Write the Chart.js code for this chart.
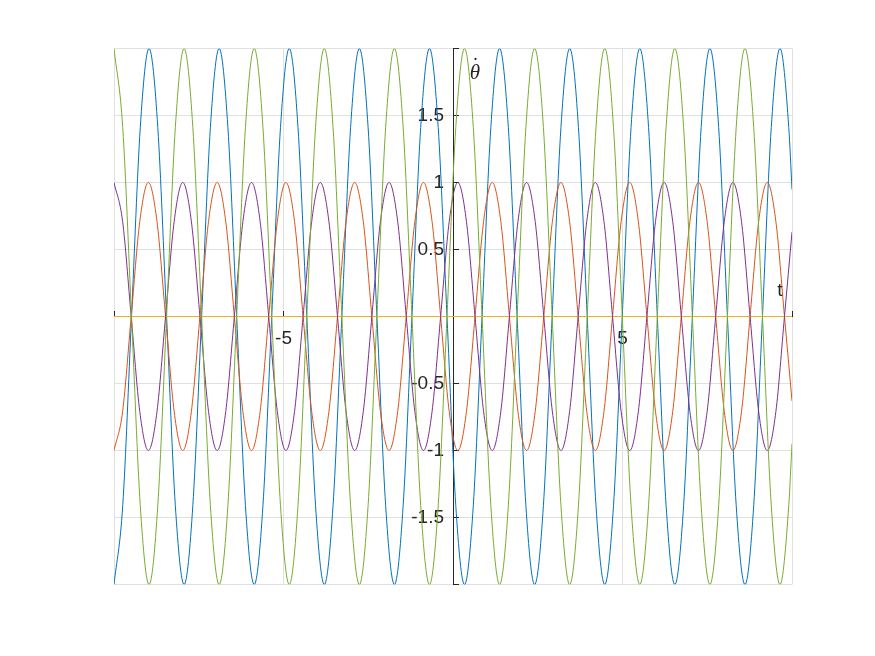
<!DOCTYPE html>
<html><head><meta charset="utf-8">
<script src="https://cdn.jsdelivr.net/npm/chart.js@4"></script>
<style>html,body{margin:0;padding:0;background:#fff}</style>
</head><body>
<canvas id="c" width="875" height="656"></canvas>
<script>
// time samples for the two amplitude-2 curves (period ~2.068)
const tA = [
-10, -9.742, -9.483, -9.225, -8.966, -8.708, -8.449, -8.191,
-7.932, -7.674, -7.415, -7.157, -6.898, -6.640, -6.381, -6.123,
-5.864, -5.606, -5.347, -5.089, -4.830, -4.572, -4.313, -4.055,
-3.796, -3.538, -3.279, -3.021, -2.762, -2.504, -2.245, -1.987,
-1.728, -1.470, -1.211, -0.953, -0.694, -0.436, -0.177, 0.082,
0.340, 0.599, 0.857, 1.116, 1.374, 1.633, 1.891, 2.150,
2.408, 2.667, 2.925, 3.184, 3.442, 3.701, 3.959, 4.218,
4.476, 4.735, 4.993, 5.252, 5.510, 5.769, 6.027, 6.286,
6.544, 6.803, 7.061, 7.320, 7.578, 7.837, 8.095, 8.354,
8.612, 8.871, 9.129, 9.388, 9.646, 9.905, 10];
const green = [
2, 1.41, 0, -1.41, -2, -1.41, 0, 1.41,
2, 1.41, 0, -1.41, -2, -1.41, 0, 1.41,
2, 1.41, 0, -1.41, -2, -1.41, 0, 1.41,
2, 1.41, 0, -1.41, -2, -1.41, 0, 1.41,
2, 1.41, 0, -1.41, -2, -1.41, 0, 1.41,
2, 1.41, 0, -1.41, -2, -1.41, 0, 1.41,
2, 1.41, 0, -1.41, -2, -1.41, 0, 1.41,
2, 1.41, 0, -1.41, -2, -1.41, 0, 1.41,
2, 1.41, 0, -1.41, -2, -1.41, 0, 1.41,
2, 1.41, 0, -1.41, -2, -1.41, -0.95];
const blue = [
-2, -1.41, 0, 1.41, 2, 1.41, 0, -1.41,
-2, -1.41, 0, 1.41, 2, 1.41, 0, -1.41,
-2, -1.41, 0, 1.41, 2, 1.41, 0, -1.41,
-2, -1.41, 0, 1.41, 2, 1.41, 0, -1.41,
-2, -1.41, 0, 1.41, 2, 1.41, 0, -1.41,
-2, -1.41, 0, 1.41, 2, 1.41, 0, -1.41,
-2, -1.41, 0, 1.41, 2, 1.41, 0, -1.41,
-2, -1.41, 0, 1.41, 2, 1.41, 0, -1.41,
-2, -1.41, 0, 1.41, 2, 1.41, 0, -1.41,
-2, -1.41, 0, 1.41, 2, 1.41, 0.95];
// time samples for the two amplitude-1 curves (period ~2.029)
const tB = [
-10, -9.746, -9.493, -9.239, -8.986, -8.732, -8.479, -8.225,
-7.972, -7.718, -7.464, -7.211, -6.957, -6.704, -6.450, -6.197,
-5.943, -5.690, -5.436, -5.182, -4.929, -4.675, -4.422, -4.168,
-3.915, -3.661, -3.407, -3.154, -2.900, -2.647, -2.393, -2.140,
-1.886, -1.632, -1.379, -1.125, -0.872, -0.618, -0.365, -0.111,
0.142, 0.396, 0.650, 0.903, 1.157, 1.410, 1.664, 1.917,
2.171, 2.424, 2.678, 2.932, 3.185, 3.439, 3.692, 3.946,
4.199, 4.453, 4.706, 4.960, 5.214, 5.467, 5.721, 5.974,
6.228, 6.481, 6.735, 6.989, 7.242, 7.496, 7.749, 8.003,
8.256, 8.510, 8.763, 9.017, 9.271, 9.524, 9.778, 10];
const purple = [
1, 0.71, 0, -0.71, -1, -0.71, 0, 0.71,
1, 0.71, 0, -0.71, -1, -0.71, 0, 0.71,
1, 0.71, 0, -0.71, -1, -0.71, 0, 0.71,
1, 0.71, 0, -0.71, -1, -0.71, 0, 0.71,
1, 0.71, 0, -0.71, -1, -0.71, 0, 0.71,
1, 0.71, 0, -0.71, -1, -0.71, 0, 0.71,
1, 0.71, 0, -0.71, -1, -0.71, 0, 0.71,
1, 0.71, 0, -0.71, -1, -0.71, 0, 0.71,
1, 0.71, 0, -0.71, -1, -0.71, 0, 0.71,
1, 0.71, 0, -0.71, -1, -0.71, 0, 0.63];
const orange = [
-1, -0.71, 0, 0.71, 1, 0.71, 0, -0.71,
-1, -0.71, 0, 0.71, 1, 0.71, 0, -0.71,
-1, -0.71, 0, 0.71, 1, 0.71, 0, -0.71,
-1, -0.71, 0, 0.71, 1, 0.71, 0, -0.71,
-1, -0.71, 0, 0.71, 1, 0.71, 0, -0.71,
-1, -0.71, 0, 0.71, 1, 0.71, 0, -0.71,
-1, -0.71, 0, 0.71, 1, 0.71, 0, -0.71,
-1, -0.71, 0, 0.71, 1, 0.71, 0, -0.71,
-1, -0.71, 0, 0.71, 1, 0.71, 0, -0.71,
-1, -0.71, 0, 0.71, 1, 0.71, 0, -0.63];
const tZero = [-10, -5, 0, 5, 10];
const yellow = [0, 0, 0, 0, 0];
const xTickLabels = ['-5', '5'];
const yTickLabels = ['-1.5', '-1', '-0.5', '0.5', '1', '1.5'];
const xAxisLabel = 't';
const yAxisLabel = '\u03B8';
const yAxisLabelDot = '.';

function pts(t, y) { return t.map((v, i) => ({x: v, y: y[i]})); }

const TXT = '#262626';
const FONT = '"Liberation Sans", Arial, sans-serif';

const labelPlugin = {
  id: 'axisLabels',
  afterDraw(chart) {
    const ctx = chart.ctx, xs = chart.scales.x, ys = chart.scales.y;
    ctx.save();
    ctx.fillStyle = TXT;
    ctx.font = '19px ' + FONT;
    ctx.textAlign = 'center';
    ctx.textBaseline = 'alphabetic';
    ctx.fillText(xAxisLabel, xs.getPixelForValue(10) - 12, ys.getPixelForValue(0) - 21);
    const cx = xs.getPixelForValue(0) + 22, by = ys.getPixelForValue(2) + 30;
    ctx.font = 'italic 21px "Liberation Serif", "DejaVu Serif", serif';
    ctx.fillText(yAxisLabel, cx, by);
    ctx.font = '18px "Liberation Serif", serif';
    ctx.fillText(yAxisLabelDot, cx + 0.5, by - 19);
    ctx.restore();
  }
};

const ds = (label, t, y, color) => ({
  label, data: pts(t, y), borderColor: color, backgroundColor: color,
  borderWidth: 1, pointRadius: 0, fill: false, cubicInterpolationMode: 'monotone'
});

const yel = ds('yellow', tZero, yellow, '#EDB120');
yel.cubicInterpolationMode = 'default';
yel.tension = 0;

new Chart(document.getElementById('c'), {
  type: 'line',
  data: {
    datasets: [
      ds('green', tA, green, '#77AC30'),
      ds('purple', tB, purple, '#7E2F8E'),
      yel,
      ds('orange', tB, orange, '#D95319'),
      ds('blue', tA, blue, '#0072BD')
    ]
  },
  options: {
    responsive: false, animation: false, devicePixelRatio: 1,
    layout: {padding: {left: 114, top: 48.5, right: 83, bottom: 71.5}},
    plugins: {legend: {display: false}, tooltip: {enabled: false}},
    scales: {
      x: {
        type: 'linear', min: -10, max: 10, position: 'center',
        ticks: {
          stepSize: 5, autoSkip: false, maxRotation: 0, padding: 17, color: TXT,
          font: {family: FONT, size: 19},
          callback: v => xTickLabels.includes(String(v)) ? String(v) : ''
        },
        grid: {color: '#e0e0e0', lineWidth: 1, tickLength: -6, tickColor: TXT, tickWidth: 1},
        border: {display: false}
      },
      y: {
        type: 'linear', min: -2, max: 2, position: 'center',
        ticks: {
          stepSize: 0.5, autoSkip: false, padding: 15, color: TXT,
          font: {family: FONT, size: 19},
          callback: v => yTickLabels.includes(String(v)) ? String(v) : ''
        },
        grid: {color: '#e0e0e0', lineWidth: 1, tickLength: -6, tickColor: TXT, tickWidth: 1},
        border: {display: true, color: TXT, width: 1}
      }
    }
  },
  plugins: [labelPlugin]
});
</script>
</body></html>
